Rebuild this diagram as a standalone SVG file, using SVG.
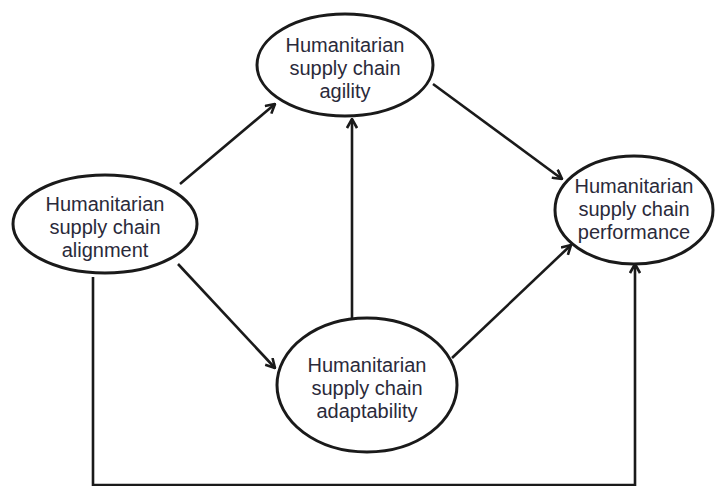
<svg xmlns="http://www.w3.org/2000/svg" width="715" height="486" viewBox="0 0 715 486">
<defs>
<marker id="arr" viewBox="0 0 12 12" refX="11" refY="6" markerWidth="12" markerHeight="12" markerUnits="userSpaceOnUse" orient="auto">
<path d="M2,1 L11,6 L2,11" fill="none" stroke="#1a1a1a" stroke-width="2.6"/>
</marker>
</defs>
<style>
.n ellipse{fill:#fff;stroke:#1a1a1a;stroke-width:3}
.n text{font-family:"Liberation Sans",Arial,sans-serif;font-size:20px;fill:#2a2a3a;text-anchor:middle}
.c line,.c polyline{stroke:#1a1a1a;stroke-width:2.6;fill:none}
</style>
<rect width="715" height="486" fill="#fff"/>
<g class="c" id="connectors">
<line x1="180" y1="184" x2="275" y2="104" marker-end="url(#arr)"/>
<line x1="178" y1="264" x2="275" y2="368" marker-end="url(#arr)"/>
<line x1="352" y1="318" x2="352" y2="119" marker-end="url(#arr)"/>
<line x1="433" y1="84" x2="562" y2="179" marker-end="url(#arr)"/>
<line x1="452" y1="358" x2="571" y2="245" marker-end="url(#arr)"/>
<polyline points="93,277 93,485 635,485 635,264" marker-end="url(#arr)"/>
</g>
<g class="n" id="agility">
<ellipse cx="345" cy="65" rx="88" ry="51"/>
<text x="345" y="52">Humanitarian</text>
<text x="345" y="75">supply chain</text>
<text x="345" y="98">agility</text>
</g>
<g class="n" id="alignment">
<ellipse cx="105" cy="224" rx="92" ry="49"/>
<text x="105" y="211">Humanitarian</text>
<text x="105" y="234">supply chain</text>
<text x="105" y="257">alignment</text>
</g>
<g class="n" id="performance">
<ellipse cx="634" cy="210" rx="79" ry="54"/>
<text x="634" y="193">Humanitarian</text>
<text x="634" y="216">supply chain</text>
<text x="634" y="239">performance</text>
</g>
<g class="n" id="adaptability">
<ellipse cx="367" cy="385" rx="90" ry="67"/>
<text x="367" y="372">Humanitarian</text>
<text x="367" y="395">supply chain</text>
<text x="367" y="418">adaptability</text>
</g>
</svg>
